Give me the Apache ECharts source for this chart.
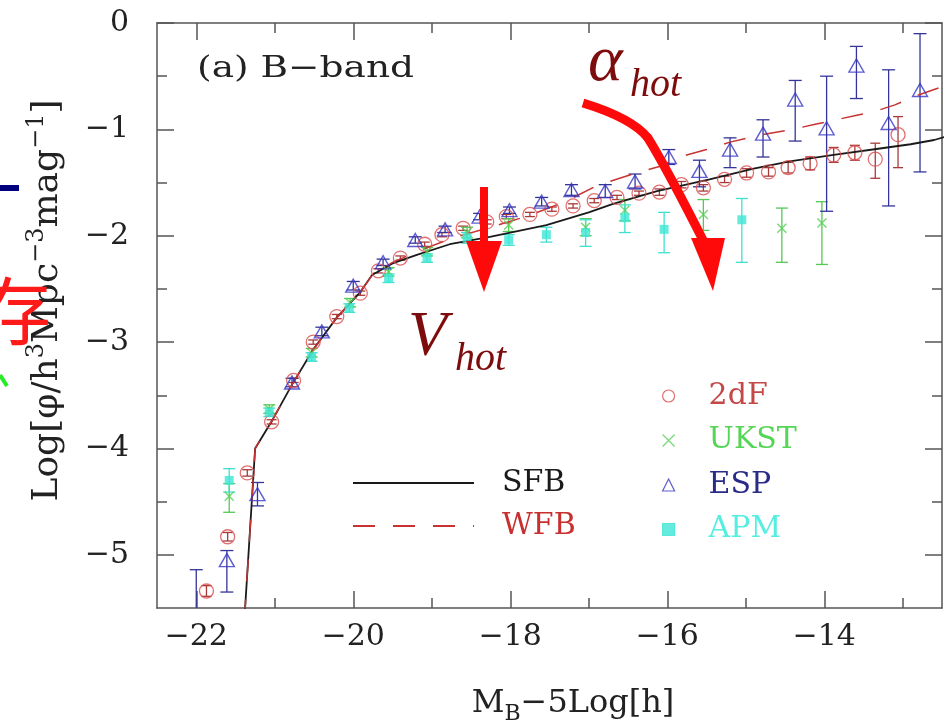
<!DOCTYPE html>
<html><head><meta charset="utf-8">
<script src="https://cdn.jsdelivr.net/npm/echarts@6/dist/echarts.min.js"></script>
<style>html,body{margin:0;padding:0;background:#fff}#c{width:951px;height:728px}</style>
</head><body><div id="c"></div>
<script>
// ---- axis ticks ----
const xMajor = [-22, -20, -18, -16, -14];
const xMinor = [-21, -19, -17, -15, -13];
const yMajor = [0, -1, -2, -3, -4, -5];
const yMinor = [-0.5, -1.5, -2.5, -3.5, -4.5];

// ---- model curves [M, logphi] ----
const sfb = [[-21.42,-6.0],[-21.25,-4.0],[-21.02,-3.72],[-20.78,-3.40],[-20.51,-3.07],[-20.21,-2.77],[-19.91,-2.53],[-19.76,-2.37],[-19.5,-2.26],[-19.19,-2.18],[-18.77,-2.08],[-18.26,-2.01],[-17.54,-1.90],[-17.0,-1.78],[-16.69,-1.70],[-16.13,-1.58],[-15.46,-1.47],[-14.9,-1.37],[-14.44,-1.30],[-13.88,-1.24],[-13.29,-1.18],[-12.9,-1.14],[-12.6,-1.10],[-12.46,-1.07]];
const wfb = [[-21.42,-6.0],[-21.25,-4.0],[-21.02,-3.72],[-20.78,-3.40],[-20.51,-3.07],[-20.21,-2.77],[-19.91,-2.53],[-19.76,-2.37],[-19.5,-2.25],[-19.19,-2.15],[-18.77,-2.03],[-18.3,-1.93],[-17.8,-1.82],[-17.3,-1.68],[-16.9,-1.53],[-16.4,-1.41],[-16.1,-1.35],[-15.8,-1.25],[-15.5,-1.19],[-15.2,-1.12],[-14.8,-1.05],[-14.47,-1.01],[-14.1,-0.95],[-13.6,-0.87],[-13.35,-0.83],[-13.1,-0.77],[-12.85,-0.69],[-12.5,-0.60]];

// ---- data points [M, logphi, low, high] ----
const df2 = [[-21.87,-5.34,-5.39,-5.29],[-21.60,-4.83,-4.87,-4.79],[-21.35,-4.23,-4.26,-4.20],[-21.04,-3.75,-3.77,-3.73],[-20.76,-3.36,-3.38,-3.34],[-20.51,-3.00,-3.02,-2.98],[-20.21,-2.76,-2.78,-2.74],[-19.91,-2.54,-2.56,-2.52],[-19.68,-2.33,-2.35,-2.31],[-19.40,-2.21,-2.23,-2.19],[-19.09,-2.08,-2.10,-2.06],[-18.87,-1.99,-2.01,-1.97],[-18.60,-1.93,-1.95,-1.91],[-18.30,-1.87,-1.89,-1.85],[-18.05,-1.82,-1.84,-1.80],[-17.75,-1.80,-1.82,-1.78],[-17.47,-1.75,-1.77,-1.73],[-17.20,-1.72,-1.74,-1.70],[-16.93,-1.67,-1.69,-1.65],[-16.64,-1.64,-1.66,-1.62],[-16.36,-1.60,-1.62,-1.58],[-16.10,-1.59,-1.62,-1.56],[-15.82,-1.52,-1.55,-1.49],[-15.54,-1.55,-1.58,-1.52],[-15.27,-1.47,-1.50,-1.44],[-14.99,-1.41,-1.45,-1.37],[-14.71,-1.40,-1.44,-1.36],[-14.46,-1.36,-1.41,-1.31],[-14.18,-1.32,-1.38,-1.26],[-13.88,-1.24,-1.31,-1.17],[-13.61,-1.22,-1.29,-1.15],[-13.35,-1.28,-1.46,-1.13],[-13.06,-1.05,-1.36,-0.88]];
const ukst = [[-21.58,-4.45,-4.60,-4.33],[-21.07,-3.63,-3.67,-3.59],[-20.53,-3.10,-3.14,-3.06],[-20.04,-2.63,-2.67,-2.59],[-19.55,-2.34,-2.38,-2.30],[-19.06,-2.15,-2.19,-2.11],[-18.55,-1.97,-2.02,-1.92],[-18.02,-1.90,-1.96,-1.84],[-17.04,-1.92,-2.00,-1.84],[-16.54,-1.76,-1.86,-1.66],[-15.54,-1.80,-1.95,-1.66],[-14.54,-1.93,-2.25,-1.74],[-14.03,-1.88,-2.27,-1.68]];
const esp = [[-22.00,-5.62,-6.20,-5.14],[-21.61,-5.05,-5.35,-4.96],[-21.22,-4.43,-4.54,-4.32],[-20.78,-3.38,-3.42,-3.34],[-20.40,-2.90,-2.94,-2.86],[-20.00,-2.47,-2.51,-2.43],[-19.62,-2.25,-2.28,-2.22],[-19.21,-2.04,-2.07,-2.01],[-18.83,-1.94,-1.97,-1.91],[-18.39,-1.82,-1.85,-1.79],[-18.01,-1.76,-1.79,-1.73],[-17.60,-1.68,-1.72,-1.64],[-17.22,-1.57,-1.62,-1.52],[-16.79,-1.58,-1.64,-1.52],[-16.41,-1.49,-1.56,-1.42],[-15.98,-1.26,-1.33,-1.19],[-15.59,-1.39,-1.54,-1.29],[-15.20,-1.19,-1.36,-1.08],[-14.78,-1.04,-1.26,-0.91],[-14.37,-0.72,-1.11,-0.54],[-13.97,-0.99,-1.77,-0.50],[-13.59,-0.40,-0.71,-0.22],[-13.18,-0.94,-1.72,-0.44],[-12.78,-0.63,-1.40,-0.10]];
const apm = [[-21.58,-4.30,-4.41,-4.19],[-21.07,-3.66,-3.70,-3.62],[-20.53,-3.14,-3.18,-3.10],[-20.05,-2.68,-2.72,-2.64],[-19.55,-2.40,-2.44,-2.36],[-19.06,-2.21,-2.25,-2.17],[-18.55,-2.02,-2.07,-1.97],[-18.02,-2.04,-2.09,-1.99],[-17.54,-1.99,-2.06,-1.92],[-17.04,-1.97,-2.10,-1.85],[-16.54,-1.83,-1.97,-1.71],[-16.04,-1.94,-2.16,-1.78],[-15.05,-1.85,-2.25,-1.65]];

const SERIF = '"DejaVu Serif", serif';
const AX = '#555';
const minus = v => (v === 0 ? '0' : '\u2212' + Math.abs(v));

function errRender(color, cap) {
  return function (params, api) {
    const x = api.value(0), lo = api.value(2), hi = api.value(3);
    const a = api.coord([x, hi]), b = api.coord([x, lo]);
    const st = { stroke: color, lineWidth: 1.3 };
    return { type: 'group', children: [
      { type: 'line', shape: { x1: a[0], y1: a[1], x2: b[0], y2: b[1] }, style: st },
      { type: 'line', shape: { x1: a[0] - cap, y1: a[1], x2: a[0] + cap, y2: a[1] }, style: st },
      { type: 'line', shape: { x1: b[0] - cap, y1: b[1], x2: b[0] + cap, y2: b[1] }, style: st }
    ] };
  };
}
function errSeries(data, color, cap) {
  return { type: 'custom', data: data, renderItem: errRender(color, cap), encode: { x: 0, y: [1, 2, 3] }, clip: true, silent: true, z: 2, xAxisIndex: 0, yAxisIndex: 0 };
}

function xAx(pos, vals, len, line, labels) {
  return { type: 'value', position: pos, min: -22.5, max: -12.5, gridIndex: 0,
    axisLine: { show: line, onZero: false, lineStyle: { color: AX, width: 1.5 } },
    axisTick: { show: true, inside: true, length: len, customValues: vals, lineStyle: { color: AX, width: 1.5 } },
    axisLabel: labels ? { show: true, customValues: xMajor, formatter: minus, fontFamily: SERIF, fontSize: 30, color: '#222', margin: 14 } : { show: false },
    splitLine: { show: false } };
}
function yAx(pos, vals, len, line, labels) {
  return { type: 'value', position: pos, min: -5.5, max: 0, gridIndex: 0,
    axisLine: { show: line, onZero: false, lineStyle: { color: AX, width: 1.5 } },
    axisTick: { show: true, inside: true, length: len, customValues: vals, lineStyle: { color: AX, width: 1.5 } },
    axisLabel: labels ? { show: true, customValues: yMajor, formatter: minus, fontFamily: SERIF, fontSize: 30, color: '#222', margin: 28 } : { show: false },
    splitLine: { show: false } };
}

const xAxes = [xAx('bottom', xMajor, 17, true, true), xAx('bottom', xMinor, 10, false, false), xAx('top', xMajor, 17, true, false), xAx('top', xMinor, 10, false, false)];
xAxes[0].name = 'M{b|B}\u22125Log[h]';
xAxes[0].nameLocation = 'middle';
xAxes[0].nameGap = 75;
xAxes[0].nameTextStyle = { fontFamily: SERIF, fontSize: 32, color: '#222', padding: [0, 0, 0, 47],
  rich: { b: { fontFamily: SERIF, fontSize: 22, color: '#222', padding: [20, 0, 0, 0] } } };
const yAxes = [yAx('left', yMajor, 17, true, true), yAx('left', yMinor, 10, false, false), yAx('right', yMajor, 17, true, false), yAx('right', yMinor, 10, false, false)];
yAxes[0].name = 'Log[\u03c6/h{s|3}Mpc{s|\u22123}mag{s|\u22121}]';
yAxes[0].nameLocation = 'middle';
yAxes[0].nameGap = 86;
yAxes[0].nameTextStyle = { fontFamily: SERIF, fontSize: 36, color: '#222', padding: [0, 0, 0, 30],
  rich: { s: { fontFamily: SERIF, fontSize: 24, color: '#222', padding: [0, 0, 22, 0] } } };

const RED = '#ff0a0a';
const DARK = '#7d0c0c';
const option = {
  animation: false,
  backgroundColor: '#fff',
  grid: { left: 157, right: 9, top: 23, bottom: 120, outerBoundsMode: 'none', containLabel: false },
  xAxis: xAxes,
  yAxis: yAxes,
  legend: [
    { orient: 'vertical', left: 352, top: 468, padding: 0, itemWidth: 121, itemHeight: 14, itemGap: 13,
      itemStyle: { opacity: 0, color: 'rgba(0,0,0,0)', borderWidth: 0 },
      textStyle: { fontFamily: SERIF, fontSize: 30, color: '#1a1a1a', padding: [0, 0, 0, 23] },
      selectedMode: false,
      data: [{ name: 'SFB' }, { name: 'WFB', textStyle: { color: '#c83030' } }] },
    { orient: 'vertical', left: 662, top: 381, padding: 0, itemWidth: 12, itemHeight: 12, itemGap: 14.5,
      textStyle: { fontFamily: SERIF, fontSize: 30, padding: [0, 0, 0, 29] },
      itemStyle: { borderWidth: 1.2 },
      selectedMode: false,
      data: [{ name: '2dF', textStyle: { color: '#c44848' } }, { name: 'UKST', textStyle: { color: '#55d555' } },
             { name: 'ESP', textStyle: { color: '#2a2a88' } }, { name: 'APM', textStyle: { color: '#55eee0' } }] }
  ],
  series: [
    { name: 'SFB', type: 'line', data: sfb, showSymbol: false, symbol: 'none', clip: true, z: 3,
      lineStyle: { color: '#1a1a1a', width: 1.8 }, itemStyle: { color: '#1a1a1a' } },
    { name: 'WFB', type: 'line', data: wfb, showSymbol: false, symbol: 'none', clip: true, z: 3,
      lineStyle: { color: '#c83232', width: 1.5, type: [22, 18] }, itemStyle: { color: '#c83232' } },
    errSeries(df2, '#a83a3a', 5),
    errSeries(ukst, '#55c855', 6),
    errSeries(esp, '#34349a', 6.5),
    errSeries(apm, '#3ee0d2', 6),
    { name: '2dF', type: 'scatter', data: df2, encode: { x: 0, y: 1 }, symbol: 'circle', symbolSize: 14, clip: true, z: 4,
      itemStyle: { color: 'rgba(0,0,0,0)', borderColor: '#dc4c4c', borderWidth: 1.3 } },
    { name: 'UKST', type: 'scatter', data: ukst, encode: { x: 0, y: 1 }, symbol: 'path://M0,0L10,10M10,0L0,10', symbolSize: 9, clip: true, z: 4,
      itemStyle: { color: 'rgba(0,0,0,0)', borderColor: '#55d055', borderWidth: 1.5 } },
    { name: 'ESP', type: 'scatter', data: esp, encode: { x: 0, y: 1 }, symbol: 'triangle', symbolSize: [15, 13], clip: true, z: 4,
      itemStyle: { color: 'rgba(0,0,0,0)', borderColor: '#3434c4', borderWidth: 1.4 } },
    { name: 'APM', type: 'scatter', data: apm, encode: { x: 0, y: 1 }, symbol: 'rect', symbolSize: 9, clip: true, z: 4,
      itemStyle: { color: '#3ee6d6', borderColor: '#3ee6d6', borderWidth: 0 } }
  ],
  graphic: [
    { type: 'text', x: 197, y: 69, scaleX: 1.25, z: 10, style: { text: '(a) B\u2212band', font: '30px "DejaVu Serif"', fill: '#222', verticalAlign: 'middle' } },
    // annotations
    { type: 'text', x: 588, y: 63, z: 10, style: { text: '\u03b1', font: 'italic 66px "Liberation Serif"', fill: DARK, verticalAlign: 'middle' } },
    { type: 'text', x: 630, y: 85, z: 10, style: { text: 'hot', font: 'italic 40px "Liberation Serif"', fill: DARK, verticalAlign: 'middle' } },
    { type: 'text', x: 408, y: 338, z: 10, style: { text: 'V', font: 'italic 64px "Liberation Serif"', fill: DARK, verticalAlign: 'middle' } },
    { type: 'text', x: 455, y: 359, z: 10, style: { text: 'hot', font: 'italic 40px "Liberation Serif"', fill: DARK, verticalAlign: 'middle' } },
    { type: 'rect', z: 10, shape: { x: 480, y: 187, width: 8, height: 56 }, style: { fill: RED } },
    { type: 'polygon', z: 10, shape: { points: [[466, 241], [502, 241], [484, 292]] }, style: { fill: RED } },
    { type: 'bezierCurve', z: 10, shape: { x1: 583, y1: 103, cpx1: 632, cpy1: 118, x2: 648, y2: 138 }, style: { fill: 'none', stroke: RED, lineWidth: 9, lineCap: 'butt' } },
    { type: 'bezierCurve', z: 10, shape: { x1: 647, y1: 136.5, cpx1: 665, cpy1: 165, x2: 705, y2: 244 }, style: { fill: 'none', stroke: RED, lineWidth: 9, lineCap: 'butt' } },
    { type: 'polygon', z: 10, shape: { points: [[691, 238], [725, 238], [713, 291]] }, style: { fill: RED } },
    // cropped slide remnants on the left edge
    { type: 'rect', z: 10, shape: { x: 0, y: 185, width: 19, height: 6 }, style: { fill: '#00007f' } },
    { type: 'text', x: -23, y: 311, z: 10, style: { text: '\u5b58', font: '74px "Noto Sans CJK SC"', fill: '#ff1a1a', verticalAlign: 'middle' } },
    { type: 'line', z: 10, shape: { x1: 0, y1: 375, x2: 7, y2: 386 }, style: { stroke: '#22ee22', lineWidth: 4 } }
  ]
};
const chart = echarts.init(document.getElementById('c'), null, { renderer: 'canvas' });
chart.setOption(option);
</script></body></html>
